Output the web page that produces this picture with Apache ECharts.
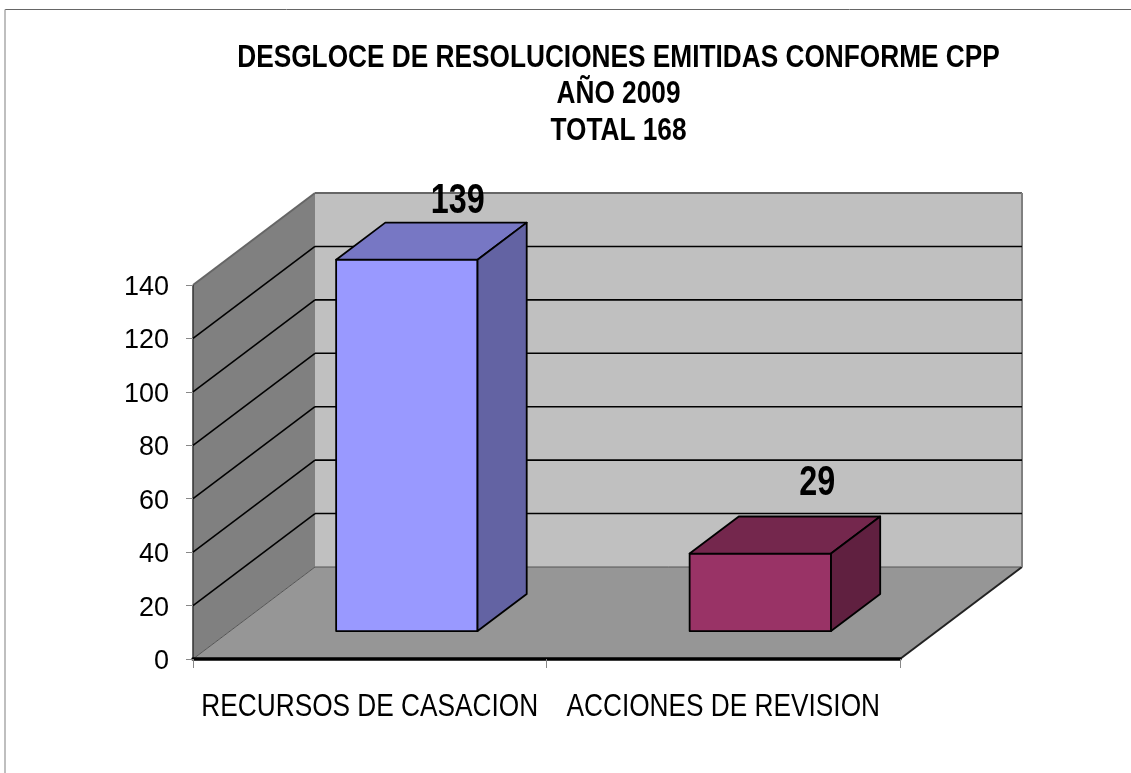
<!DOCTYPE html>
<html><head><meta charset="utf-8">
<style>html,body{margin:0;padding:0;background:#fff}#c{width:1131px;height:773px}</style>
<script src="https://cdn.jsdelivr.net/npm/echarts@6/dist/echarts.min.js"></script>
</head><body><div id="c"></div>
<script>
const titleLines = ['DESGLOCE DE RESOLUCIONES EMITIDAS CONFORME CPP', 'AÑO 2009', 'TOTAL 168'];
const categories = ['RECURSOS DE CASACION', 'ACCIONES DE REVISION'];
const values = [139, 29];
const yTicks = [0, 20, 40, 60, 80, 100, 120, 140];
const frontColors = ['#9999FF', '#993366'];
const topColors = ['#7777C4', '#74274D'];
const sideColors = ['#6363A3', '#602040'];

const DX = 122, DY = -92;            // projection of the depth axis, px
const BAR_FRONT = 0.304, BAR_BACK = 0.707, BAR_WIDTH = 0.4;
const labelNudge = [[51, -58], [57, -70]];
const SANS = '"Liberation Sans",Arial,sans-serif';
const TITLE_Y = [58, 94.5, 131.5];
const NARROW_TITLE = 0.82, NARROW_CAT = 0.82, NARROW_VALUE = 0.77;

function extent(api) {
  const band = api.size([1, 0])[0];
  const x0 = api.coord([0, 0])[0] - band / 2;
  const x1 = api.coord([categories.length - 1, 0])[0] + band / 2;
  const y0 = api.coord([0, 0])[1];
  const yTop = api.coord([0, yTicks[yTicks.length - 1]])[1];
  return { band, x0, x1, y0, yTop };
}
const poly = (points, fill, stroke, lw) => ({
  type: 'polygon', shape: { points },
  style: { fill, stroke: stroke || 'none', lineWidth: lw || 0, lineJoin: 'round' }
});
const seg = (a, b, stroke, lw) => ({
  type: 'line', shape: { x1: a[0], y1: a[1], x2: b[0], y2: b[1] },
  style: { stroke, lineWidth: lw, fill: 'none' }
});
const squeezed = (text, x, y, font, scaleX) => ({
  type: 'text', x, y, scaleX, silent: true,
  style: { text, font, fill: '#000', align: 'center', verticalAlign: 'middle' }
});

function renderWalls(params, api) {
  const { x0, x1, y0, yTop } = extent(api);
  return { type: 'group', children: [
    poly([[x0 + DX, yTop + DY], [x1 + DX, yTop + DY], [x1 + DX, y0 + DY], [x0 + DX, y0 + DY]], '#C0C0C0'),
    poly([[x0, yTop], [x0 + DX, yTop + DY], [x0 + DX, y0 + DY], [x0, y0]], '#808080'),
    poly([[x0, y0], [x0 + DX, y0 + DY], [x1 + DX, y0 + DY], [x1, y0]], '#969696'),
    seg([x0 + DX, y0 + DY], [x1 + DX, y0 + DY], '#555', 1),
    seg([x0, y0], [x0 + DX, y0 + DY], '#555', 1),
    seg([x1, y0], [x1 + DX, y0 + DY], '#222', 2),
    seg([x0 + DX, yTop + DY], [x1 + DX, yTop + DY], '#666', 2),
    seg([x0, yTop], [x0 + DX, yTop + DY], '#666', 2),
    seg([x1 + DX, yTop + DY], [x1 + DX, y0 + DY], '#808080', 2),
    seg([x0, yTop], [x0, y0], '#333', 1.5)
  ]};
}
function renderGrid(params, api) {
  const v = api.value(0);
  const { x0, x1 } = extent(api);
  const y = api.coord([0, v])[1];
  return { type: 'group', children: [
    seg([x0, y], [x0 + DX, y + DY], '#000', 1.6),
    seg([x0 + DX, y + DY], [x1 + DX, y + DY], '#000', 1.6)
  ]};
}
function renderBar(params, api) {
  const i = params.dataIndex;
  const v = api.value(1);
  const { band } = extent(api);
  const cx = api.coord([i, 0])[0] + DX * BAR_FRONT;
  const w = band * BAR_WIDTH;
  const l = cx - w / 2, r = cx + w / 2;
  const b = api.coord([i, 0])[1] + DY * BAR_FRONT;
  const t = api.coord([i, v])[1] + DY * BAR_FRONT;
  const dx = DX * (BAR_BACK - BAR_FRONT), dy = DY * (BAR_BACK - BAR_FRONT);
  return { type: 'group', children: [
    poly([[l, b], [r, b], [r, t], [l, t]], frontColors[i], '#000', 1.8),
    poly([[l, t], [r, t], [r + dx, t + dy], [l + dx, t + dy]], topColors[i], '#000', 1.8),
    poly([[r, b], [r + dx, b + dy], [r + dx, t + dy], [r, t]], sideColors[i], '#000', 1.8),
    squeezed(String(v), cx + labelNudge[i][0], t + labelNudge[i][1], 'bold 42px ' + SANS, NARROW_VALUE)
  ]};
}
function renderCategoryLabel(params, api) {
  const i = params.dataIndex;
  const p = api.coord([i, 0]);
  return squeezed(categories[i], p[0], p[1] + 48.5, '32px ' + SANS, NARROW_CAT);
}

const chart = echarts.init(document.getElementById('c'), null, { renderer: 'canvas' });
chart.setOption({
  animation: false,
  backgroundColor: '#fff',
  graphic: [
    { type: 'line', shape: { x1: 5, y1: 9.5, x2: 1131, y2: 9.5 }, style: { stroke: '#666', lineWidth: 1 }, silent: true },
    { type: 'line', shape: { x1: 5, y1: 9.5, x2: 5, y2: 773 }, style: { stroke: '#aaa', lineWidth: 1.5 }, silent: true },
    ...titleLines.map((text, i) => ({
      type: 'text', x: 618.5, y: TITLE_Y[i], scaleX: NARROW_TITLE, silent: true,
      style: { text, font: 'bold 32px ' + SANS, fill: '#000', align: 'center', verticalAlign: 'middle' }
    }))
  ],
  grid: { left: 193, right: 231, top: 285, bottom: 114, containLabel: false },
  xAxis: {
    type: 'category', data: categories, boundaryGap: true, z: 10,
    axisLine: { show: true, lineStyle: { color: '#000', width: 3.5 } },
    axisTick: { show: true, length: 9, alignWithLabel: false, lineStyle: { color: '#888', width: 1 } },
    axisLabel: { show: false },
    splitLine: { show: false }
  },
  yAxis: {
    type: 'value', min: 0, max: 140, interval: 20, z: 10,
    axisLine: { show: false },
    axisTick: { show: true, length: 7, lineStyle: { color: '#888', width: 1 } },
    axisLabel: { margin: 24, fontFamily: SANS, fontSize: 27, color: '#000', verticalAlign: 'top', lineHeight: 5 },
    splitLine: { show: false }
  },
  series: [
    { type: 'custom', z: 1, silent: true, data: [[0]], renderItem: renderWalls, encode: { x: -1, y: -1 } },
    { type: 'custom', z: 2, silent: true, data: yTicks.slice(1, -1).map(v => [v]), renderItem: renderGrid, encode: { x: -1, y: 0 } },
    { type: 'custom', z: 3, silent: true, data: values.map((v, i) => [i, v]), renderItem: renderBar, encode: { x: 0, y: 1 } },
    { type: 'custom', z: 4, silent: true, data: categories.map((c, i) => [i]), renderItem: renderCategoryLabel, encode: { x: 0, y: -1 } }
  ]
});
</script></body></html>
